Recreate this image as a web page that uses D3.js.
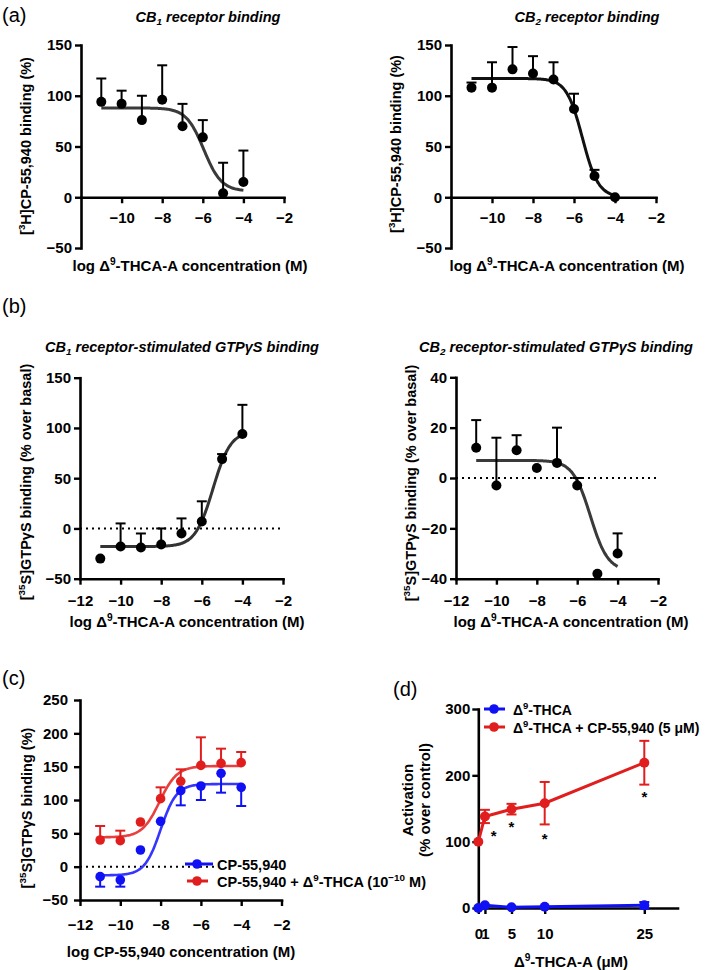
<!DOCTYPE html>
<html><head><meta charset="utf-8">
<script src="https://cdn.jsdelivr.net/npm/d3@7"></script>
<style>
body{margin:0;background:#fff}
svg{display:block;background:#fff}
text{font-family:"Liberation Sans",Arial,sans-serif;fill:#000}
</style>
</head><body>
<svg id="chart" width="709" height="970"></svg>
<script>
// ---------- DATA ----------
const logConc = [-11, -10, -9, -8, -7, -6, -5, -4];
const cb1BindMean = [94, 92, 76, 96, 70, 59, 4, 15];
const cb1BindErr  = [23, 13, 24, 34, 22, 17, 30, 31];
const cb2BindMean = [108, 108, 126, 122, 116, 87, 21, 0];
const cb2BindErr  = [5, 25, 22, 17, 17, 15, 6, 0];
const cb1GtpMean  = [-30, -18, -19, -16, -5, 7, 69, 94];
const cb1GtpErr   = [0, 23, 14, 16, 15, 20, 5, 29];
const cb2GtpMean  = [12, -3, 11, 4, 6, -3, -38, -30];
const cb2GtpErr   = [11, 19, 6, 0, 14, 3, 0, 8];
const cpMean      = [-15, -20, 25, 68, 114, 121, 140, 119];
const cpErr       = [15, 10, 0, 0, 22, 21, 29, 28];
const cpThcaMean  = [40, 39, 67, 102, 128, 152, 155, 156];
const cpThcaErr   = [21, 15, 0, 17, 18, 42, 22, 16];
const doseD       = [0, 1, 5, 10, 25];
const thcaMean    = [0, 4, 1, 2, 4];
const thcaErr     = [0, 0, 0, 0, 5];
const thcaCpMean  = [100, 138, 149, 158, 219];
const thcaCpErr   = [0, 10, 8, 32, 33];
const starDose    = [2.3, 5, 10, 25];
const starLevel   = [115, 128, 110, 173];
// fitted curve parameters: [value at low conc, value at high conc, logEC50, hill]
const fitCb1Bind = [88, 6, -5.95, 1];
const fitCb2Bind = [117, 0, -5.59, 1.12];
const fitCb1Gtp  = [-18, 97, -5.45, 1];
const fitCb2Gtp  = [7, -37, -5.35, 1];
const fitCp      = [-13, 124, -8.0, 1.1];
const fitCpThca  = [44, 151, -8.05, 1];
const xTicksA  = [-10, -8, -6, -4, -2];
const xTicksB  = [-12, -10, -8, -6, -4, -2];
const yTicksA  = [-50, 0, 50, 100, 150];
const yTicksB2 = [-40, -20, 0, 20, 40];
const yTicksC  = [-50, 0, 50, 100, 150, 200, 250];
const yTicksD  = [0, 100, 200, 300];
const xTicksD  = [0, 1, 5, 10, 25];

const BLUE = "#1010f5", RED = "#e01e1e";
const svg = d3.select("#chart");

function rich(sel, parts, size) {
  let shift = 0;
  parts.forEach(p => {
    const t = typeof p === "string" ? p : p[0];
    const k = typeof p === "string" ? null : p[1];
    const target = k === "sup" ? -size * 0.38 : k === "sub" ? size * 0.22 : 0;
    const ts = sel.append("tspan").text(t).attr("dy", target - shift);
    if (k) ts.attr("font-size", size * 0.68);
    shift = target;
  });
  return sel;
}

function panel(o) {
  const g = svg.append("g");
  const x = d3.scaleLinear().domain(o.xDomain).range(o.xRange);
  const y = d3.scaleLinear().domain(o.yDomain).range(o.yRange);
  const ya = d3.axisLeft(y).tickValues(o.yTicks).tickSize(6).tickSizeOuter(0).tickPadding(o.yPad ?? 3);
  const xa = d3.axisBottom(x).tickValues(o.xTicks).tickSize(6).tickSizeOuter(0).tickPadding(o.xPad ?? 9);
  if (o.xFormat) xa.tickFormat(o.xFormat);
  const gy = g.append("g").attr("transform", `translate(${x(o.xDomain[0])},0)`).call(ya);
  const gx = g.append("g").attr("transform", `translate(0,${y(o.xAxisAt)})`).call(xa);
  [gx, gy].forEach(a => {
    a.attr("color", "#000");
    a.selectAll(".domain").attr("stroke-width", 2.6).attr("stroke-linecap", "square");
    a.selectAll(".tick line").attr("stroke-width", 2.4);
    a.selectAll("text").attr("font-size", 15).style("font-weight", "bold")
      .attr("font-family", '"Liberation Sans",Arial,sans-serif');
  });
  return { g, x, y };
}

function curve(p, params, color, w) {
  const [lo, hi, ec, h] = params;
  const xs = d3.range(-11, -4 + 0.001, 0.05);
  const f = v => lo + (hi - lo) / (1 + Math.pow(10, (ec - v) * h));
  p.g.append("path").datum(xs)
    .attr("d", d3.line().x(v => p.x(v)).y(v => p.y(f(v))).curve(d3.curveBasis))
    .attr("fill", "none").attr("stroke", color).attr("stroke-width", w);
}

function errBars(p, xs, means, errs, dir, color) {
  xs.forEach((xv, i) => {
    if (!errs[i]) return;
    const ends = dir === 0 ? [1, -1] : [dir];
    ends.forEach(s => {
      const y0 = p.y(means[i]), y1 = p.y(means[i] + s * errs[i]);
      p.g.append("line").attr("x1", p.x(xv)).attr("x2", p.x(xv)).attr("y1", y0).attr("y2", y1)
        .attr("stroke", color).attr("stroke-width", 2);
      p.g.append("line").attr("x1", p.x(xv) - 5).attr("x2", p.x(xv) + 5).attr("y1", y1).attr("y2", y1)
        .attr("stroke", color).attr("stroke-width", 2);
    });
  });
}

function dots(p, xs, means, color, r) {
  p.g.selectAll(null).data(xs).enter().append("circle")
    .attr("cx", d => p.x(d)).attr("cy", (d, i) => p.y(means[i])).attr("r", r).attr("fill", color);
}

function dotted(p, x0, x1) {
  p.g.append("line").attr("x1", p.x(x0)).attr("x2", p.x(x1)).attr("y1", p.y(0)).attr("y2", p.y(0))
    .attr("stroke", "#000").attr("stroke-width", 2).attr("stroke-dasharray", "2,4");
}

function label(x, y, parts, size, opts = {}) {
  const t = svg.append("text").attr("x", x).attr("y", y).attr("font-size", size)
    .attr("text-anchor", opts.anchor || "middle")
    .style("font-weight", opts.normal ? "normal" : "bold");
  if (opts.rotate) t.attr("transform", `rotate(-90,${x},${y})`);
  if (opts.italic) t.style("font-style", "italic");
  rich(t, parts, size);
  return t;
}

// panel letters
label(2, 22, ["(a)"], 20, { anchor: "start", normal: true });
label(2, 313, ["(b)"], 20, { anchor: "start", normal: true });
label(2, 685, ["(c)"], 20, { anchor: "start", normal: true });
label(393, 696, ["(d)"], 20, { anchor: "start", normal: true });

const xLab = ["log Δ", ["9", "sup"], "-THCA-A concentration (M)"];

// ---------- (a) left ----------
{
  const p = panel({ xDomain: [-12, -2], xRange: [81, 284], yDomain: [-50, 150], yRange: [248, 45],
    xTicks: xTicksA, yTicks: yTicksA, xAxisAt: 0 });
  curve(p, fitCb1Bind, "#3a3a3a", 3);
  errBars(p, logConc, cb1BindMean, cb1BindErr, 1, "#000");
  dots(p, logConc, cb1BindMean, "#000", 5);
  label(208, 22, ["CB", ["1", "sub"], " receptor binding"], 14.5, { italic: true });
  label(190, 271, xLab, 15);
  label(31, 146, ["[", ["3", "sup"], "H]CP-55,940 binding (%)"], 14.5, { rotate: true });
}
// ---------- (a) right ----------
{
  const p = panel({ xDomain: [-12, -2], xRange: [451, 656], yDomain: [-50, 150], yRange: [248, 45],
    xTicks: xTicksA, yTicks: yTicksA, xAxisAt: 0 });
  curve(p, fitCb2Bind, "#111", 3);
  errBars(p, logConc, cb2BindMean, cb2BindErr, 1, "#000");
  dots(p, logConc, cb2BindMean, "#000", 5);
  label(587, 22, ["CB", ["2", "sub"], " receptor binding"], 14.5, { italic: true });
  label(567, 271, xLab, 15);
  label(401, 144, ["[", ["3", "sup"], "H]CP-55,940 binding (%)"], 14.5, { rotate: true });
}
// ---------- (b) left ----------
{
  const p = panel({ xDomain: [-12, -2], xRange: [80, 283], yDomain: [-50, 150], yRange: [578.7, 377.7],
    xTicks: xTicksB, yTicks: yTicksA, xAxisAt: -50, xPad: 11 });
  dotted(p, -12, -2);
  curve(p, fitCb1Gtp, "#333", 3);
  errBars(p, logConc, cb1GtpMean, cb1GtpErr, 1, "#000");
  dots(p, logConc, cb1GtpMean, "#000", 5);
  label(182, 352, ["CB", ["1", "sub"], " receptor-stimulated GTPγS binding"], 14.5, { italic: true });
  label(187, 627, xLab, 15);
  label(31, 482, ["[", ["35", "sup"], "S]GTPγS binding (% over basal)"], 14.5, { rotate: true });
}
// ---------- (b) right ----------
{
  const p = panel({ xDomain: [-12, -2], xRange: [456, 658], yDomain: [-40, 40], yRange: [578.7, 377.3],
    xTicks: xTicksB, yTicks: yTicksB2, xAxisAt: -40, xPad: 11 });
  dotted(p, -12, -2);
  curve(p, fitCb2Gtp, "#3a3a3a", 3);
  errBars(p, logConc, cb2GtpMean, cb2GtpErr, 1, "#000");
  dots(p, logConc, cb2GtpMean, "#000", 5);
  label(556, 352, ["CB", ["2", "sub"], " receptor-stimulated GTPγS binding"], 14.5, { italic: true });
  label(571, 627, xLab, 15);
  label(416, 483, ["[", ["35", "sup"], "S]GTPγS binding (% over basal)"], 14.5, { rotate: true });
}
// ---------- (c) ----------
{
  const p = panel({ xDomain: [-12, -2], xRange: [80, 281.5], yDomain: [-50, 250], yRange: [900, 700],
    xTicks: xTicksB, yTicks: yTicksC, xAxisAt: -50, xPad: 13, yPad: 6 });
  dotted(p, -12, -5.3);
  curve(p, fitCp, "#3535ff", 2.6);
  curve(p, fitCpThca, "#e84040", 2.6);
  errBars(p, logConc, cpMean, cpErr, -1, BLUE);
  errBars(p, logConc, cpThcaMean, cpThcaErr, 1, RED);
  dots(p, logConc, cpMean, BLUE, 4.8);
  dots(p, logConc, cpThcaMean, RED, 4.8);
  label(181, 957, ["log CP-55,940 concentration (M)"], 15);
  label(32, 808, ["[", ["35", "sup"], "S]GTPγS binding (%)"], 14.5, { rotate: true });
  const leg = [[BLUE, 864, 185, 213, ["CP-55,940"]],
               [RED, 881, 187, 208, ["CP-55,940 + Δ", ["9", "sup"], "-THCA (10", ["−10", "sup"], " M)"]]];
  leg.forEach(([c, yy, x0, x1, parts]) => {
    svg.append("line").attr("x1", x0).attr("x2", x1).attr("y1", yy).attr("y2", yy)
      .attr("stroke", c).attr("stroke-width", 3);
    svg.append("circle").attr("cx", 197).attr("cy", yy).attr("r", 4.8).attr("fill", c);
    label(217, yy + 5.5, parts, 14.5, { anchor: "start" });
  });
}
// ---------- (d) ----------
{
  const p = panel({ xDomain: [0, 30], xRange: [478.3, 677.5], yDomain: [0, 300], yRange: [908, 709],
    xTicks: xTicksD, yTicks: yTicksD, xAxisAt: 0, xPad: 14, yPad: 2, xFormat: d3.format("d") });
  const ln = d3.line().x((d, i) => p.x(doseD[i])).y(d => p.y(d));
  p.g.append("path").datum(thcaMean).attr("d", ln).attr("fill", "none").attr("stroke", BLUE).attr("stroke-width", 3);
  p.g.append("path").datum(thcaCpMean).attr("d", ln).attr("fill", "none").attr("stroke", RED).attr("stroke-width", 3);
  errBars(p, doseD, thcaMean, thcaErr, 0, BLUE);
  errBars(p, doseD, thcaCpMean, thcaCpErr, 0, RED);
  dots(p, doseD, thcaMean, BLUE, 5);
  dots(p, doseD, thcaCpMean, RED, 5);
  starDose.forEach((d, i) => {
    svg.append("text").attr("x", p.x(d)).attr("y", p.y(starLevel[i]) + 9).attr("font-size", 15)
      .attr("text-anchor", "middle").style("font-weight", "bold").text("*");
  });
  label(571, 967, ["Δ", ["9", "sup"], "-THCA-A (μM)"], 15);
  label(413, 800, ["Activation"], 15, { rotate: true });
  label(430, 800, ["(% over control)"], 15, { rotate: true });
  const leg = [[BLUE, 709, ["Δ", ["9", "sup"], "-THCA"]],
               [RED, 727, ["Δ", ["9", "sup"], "-THCA + CP-55,940 (5 μM)"]]];
  leg.forEach(([c, yy, parts]) => {
    svg.append("line").attr("x1", 484).attr("x2", 505).attr("y1", yy).attr("y2", yy)
      .attr("stroke", c).attr("stroke-width", 3);
    svg.append("circle").attr("cx", 494).attr("cy", yy).attr("r", 4.8).attr("fill", c);
    label(513, yy + 5.5, parts, 14, { anchor: "start" });
  });
}
</script>
</body></html>
